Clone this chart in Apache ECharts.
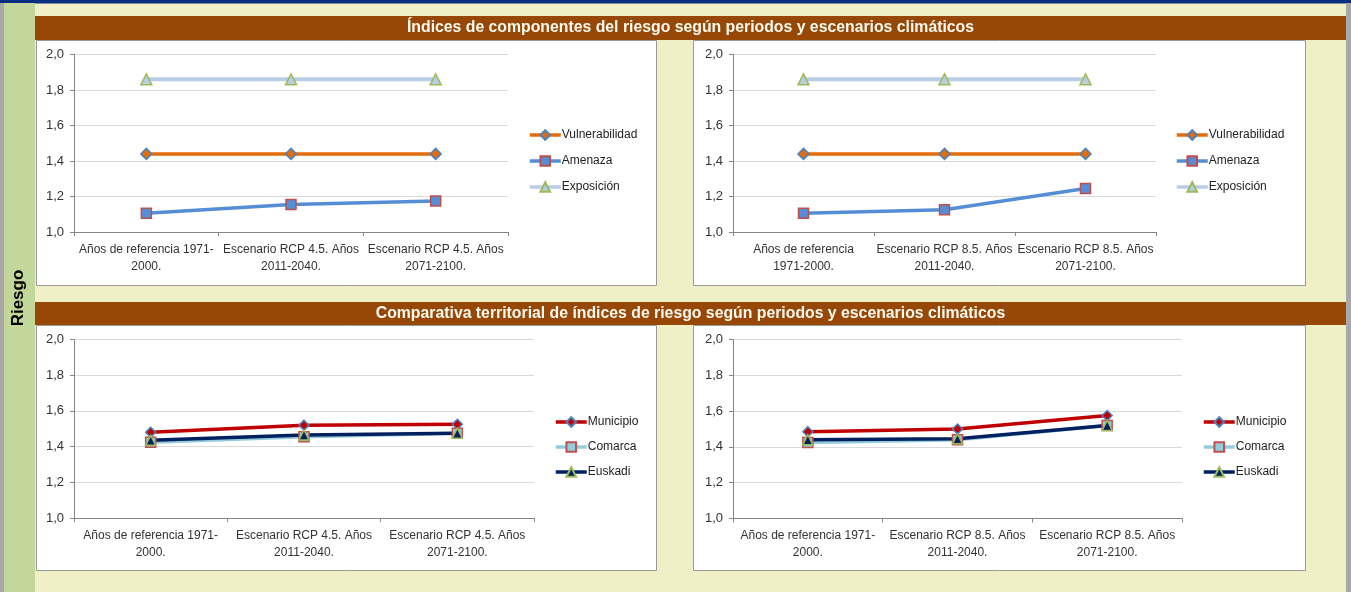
<!DOCTYPE html>
<html><head><meta charset="utf-8">
<script src="https://cdn.jsdelivr.net/npm/echarts@6/dist/echarts.min.js"></script>
<style>html,body{margin:0;padding:0;background:#F0F0C6;overflow:hidden}#c{width:1351px;height:592px;}</style>
</head><body><div id="c"></div>
<script>
// ---- data ----
const catsTopRCP45 = ['Años de referencia 1971-\n2000.', 'Escenario RCP 4.5. Años\n2011-2040.', 'Escenario RCP 4.5. Años\n2071-2100.'];
const catsTopRCP85 = ['Años de referencia\n1971-2000.', 'Escenario RCP 8.5. Años\n2011-2040.', 'Escenario RCP 8.5. Años\n2071-2100.'];
const catsBotRCP45 = ['Años de referencia 1971-\n2000.', 'Escenario RCP 4.5. Años\n2011-2040.', 'Escenario RCP 4.5. Años\n2071-2100.'];
const catsBotRCP85 = ['Años de referencia 1971-\n2000.', 'Escenario RCP 8.5. Años\n2011-2040.', 'Escenario RCP 8.5. Años\n2071-2100.'];

const vulnerabilidad45 = [1.44, 1.44, 1.44];
const amenaza45 = [1.105, 1.155, 1.175];
const exposicion45 = [1.86, 1.86, 1.86];
const vulnerabilidad85 = [1.44, 1.44, 1.44];
const amenaza85 = [1.105, 1.125, 1.245];
const exposicion85 = [1.86, 1.86, 1.86];

const municipio45 = [1.48, 1.52, 1.525];
const comarca45 = [1.425, 1.455, 1.475];
const euskadi45 = [1.435, 1.465, 1.475];
const municipio85 = [1.485, 1.50, 1.575];
const comarca85 = [1.425, 1.44, 1.52];
const euskadi85 = [1.44, 1.445, 1.52];

const yMin = 1.0, yMax = 2.0, yStep = 0.2;
const titleTop = 'Índices de componentes del riesgo según periodos y escenarios climáticos';
const titleBottom = 'Comparativa territorial de índices de riesgo según periodos y escenarios climáticos';
const sideLabel = 'Riesgo';
const legendTop = ['Vulnerabilidad', 'Amenaza', 'Exposición'];
const legendBottom = ['Municipio', 'Comarca', 'Euskadi'];

// ---- chart ----
const FONT = '"Liberation Sans", Arial, sans-serif';
const chart = echarts.init(document.getElementById('c'), null, {renderer: 'canvas'});

const grids = [
  {left: 74, top: 54.5, width: 434, height: 177.5},
  {left: 733, top: 54.5, width: 423, height: 177.5},
  {left: 74, top: 339.5, width: 460, height: 178.5},
  {left: 733, top: 339.5, width: 449, height: 179}
];
const catsList = [catsTopRCP45, catsTopRCP85, catsBotRCP45, catsBotRCP85];
const axisColor = '#868686';

const xAxes = catsList.map((c, i) => ({
  type: 'category', gridIndex: i, data: c, boundaryGap: true,
  axisLine: {lineStyle: {color: axisColor, width: 1}},
  axisTick: {show: true, length: 4, lineStyle: {color: axisColor}},
  axisLabel: {interval: 0, fontSize: 12, color: '#333', lineHeight: 17, margin: 9, fontFamily: FONT},
  splitLine: {show: false}
}));
const yAxes = grids.map((g, i) => ({
  type: 'value', gridIndex: i, min: yMin, max: yMax, interval: yStep,
  axisLine: {show: true, lineStyle: {color: axisColor}},
  axisTick: {show: true, length: 4, lineStyle: {color: axisColor}},
  axisLabel: {fontSize: 13, color: '#333', margin: 10, fontFamily: FONT,
    formatter: v => v.toFixed(1).replace('.', ',')},
  splitLine: {lineStyle: {color: '#D9D9D9', width: 1}}
}));

function mk(name, data, idx, symbol, size, fill, border, lineColor, lw) {
  return {
    type: 'line', name, data, xAxisIndex: idx, yAxisIndex: idx,
    symbol, symbolSize: size, showAllSymbol: true,
    itemStyle: {color: fill, borderColor: border, borderWidth: 1.5},
    lineStyle: {color: lineColor, width: lw},
    emphasis: {disabled: true}
  };
}
const series = [
  mk('Vulnerabilidad', vulnerabilidad45, 0, 'diamond', 11, '#E46C0A', '#4F81BD', '#E46C0A', 3.5),
  mk('Amenaza', amenaza45, 0, 'rect', 10, '#558ED5', '#C0504D', '#558ED5', 3.5),
  mk('Exposición', exposicion45, 0, 'triangle', 11, '#B9CDE5', '#9BBB59', '#B9CDE5', 4),
  mk('Vulnerabilidad', vulnerabilidad85, 1, 'diamond', 11, '#E46C0A', '#4F81BD', '#E46C0A', 3.5),
  mk('Amenaza', amenaza85, 1, 'rect', 10, '#558ED5', '#C0504D', '#558ED5', 3.5),
  mk('Exposición', exposicion85, 1, 'triangle', 11, '#B9CDE5', '#9BBB59', '#B9CDE5', 4),
  mk('Municipio', municipio45, 2, 'diamond', 10, '#C00000', '#4F81BD', '#C00000', 3.5),
  mk('Comarca', comarca45, 2, 'rect', 10, '#93CDDD', '#C0504D', '#93CDDD', 3.5),
  mk('Euskadi', euskadi45, 2, 'triangle', 10, '#002060', '#9BBB59', '#002060', 3.5),
  mk('Municipio', municipio85, 3, 'diamond', 10, '#C00000', '#4F81BD', '#C00000', 3.5),
  mk('Comarca', comarca85, 3, 'rect', 10, '#93CDDD', '#C0504D', '#93CDDD', 3.5),
  mk('Euskadi', euskadi85, 3, 'triangle', 10, '#002060', '#9BBB59', '#002060', 3.5)
];

function lg(data, left, top, gap) {
  return {
    data, left, top, padding: 0, orient: 'vertical', itemWidth: 31, itemHeight: 12, itemGap: gap,
    lineStyle: {width: 3.5},
    selectedMode: false, textStyle: {fontSize: 12, color: '#222', fontFamily: FONT, padding: [0, 0, 0, -4]}
  };
}
const legends = [
  lg(legendTop, 528, 129, 14),
  lg(legendTop, 1175, 129, 14),
  lg(legendBottom, 554, 416, 13),
  lg(legendBottom, 1202, 416, 13)
];

const panels = [[36, 40, 620, 245], [693, 40, 612, 245], [36, 325, 620, 245], [693, 325, 612, 245]];
const graphic = [
  {type: 'rect', z: -20, shape: {x: 0, y: 0, width: 1351, height: 592}, style: {fill: '#F0F0C6'}},
  {type: 'rect', z: -19, shape: {x: 0, y: 0, width: 1351, height: 3.5}, style: {fill: '#0B2F80'}},
  {type: 'rect', z: -19, shape: {x: 0, y: 3, width: 4, height: 589}, style: {fill: '#A8A8A8'}},
  {type: 'rect', z: -19, shape: {x: 4, y: 3, width: 31, height: 589}, style: {fill: '#C4D79B'}},
  {type: 'rect', z: -19, shape: {x: 1346, y: 3, width: 5, height: 589}, style: {fill: '#A8A8A8'}},
  {type: 'rect', z: -19, shape: {x: 35, y: 16, width: 1311, height: 24}, style: {fill: '#974706'}},
  {type: 'rect', z: -19, shape: {x: 35, y: 302, width: 1311, height: 23}, style: {fill: '#974706'}},
  ...panels.map(p => ({type: 'rect', z: -18, shape: {x: p[0] + 0.5, y: p[1] + 0.5, width: p[2], height: p[3]},
    style: {fill: '#FFFFFF', stroke: '#9A9A9A', lineWidth: 1}})),
  {type: 'text', z: 50, x: 690.5, y: 28, style: {text: titleTop, fill: '#FAFAF0', font: 'bold 15.8px ' + FONT, align: 'center', verticalAlign: 'middle'}},
  {type: 'text', z: 50, x: 690.5, y: 314, style: {text: titleBottom, fill: '#FAFAF0', font: 'bold 15.8px ' + FONT, align: 'center', verticalAlign: 'middle'}},
  {type: 'text', z: 50, x: 18, y: 298, rotation: Math.PI / 2, style: {text: sideLabel, fill: '#000', font: 'bold 17px ' + FONT, align: 'center', verticalAlign: 'middle'}}
];

chart.setOption({
  animation: false,
  textStyle: {fontFamily: FONT},
  grid: grids,
  xAxis: xAxes,
  yAxis: yAxes,
  legend: legends,
  series,
  graphic: {elements: graphic}
});
</script>
</body></html>
